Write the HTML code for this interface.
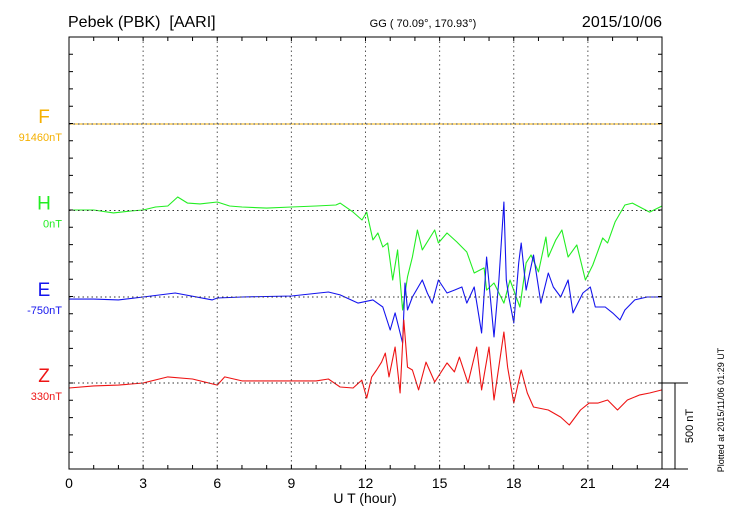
<!DOCTYPE html>
<html><head><meta charset="utf-8"><style>
html,body{margin:0;padding:0;background:#fff;}
svg{display:block;font-family:"Liberation Sans",sans-serif;}
</style></head><body>
<svg id="chart" width="730" height="520" viewBox="0 0 730 520" xmlns="http://www.w3.org/2000/svg">
<text x="68" y="27" font-size="16" fill="#000" xml:space="preserve" style="white-space:pre">Pebek (PBK)  [AARI]</text>
<text x="423" y="27" font-size="11" fill="#000" text-anchor="middle">GG ( 70.09°, 170.93°)</text>
<text x="662" y="27" font-size="16" fill="#000" text-anchor="end">2015/10/06</text>
<text x="365" y="503" font-size="14" fill="#000" text-anchor="middle">U T (hour)</text>
<text transform="translate(724,410) rotate(-90)" font-size="9" fill="#000" text-anchor="middle">Plotted at 2015/11/06 01:29 UT</text>
<g id="series"></g>
<g id="grid"></g>
<g id="axes"></g>
<g id="labels"></g>
</svg>
<script>
const xTicks = [0,3,6,9,12,15,18,21,24];
const components = ["F","H","E","Z"];
const baseLabels = ["91460nT","0nT","-750nT","330nT"];
const hT = [0,1,1.8,2.5,3,3.5,4,4.4,4.8,5.3,6,6.5,7,8,9,10,10.8,10.97,11.5,11.86,12.05,12.3,12.5,12.7,12.9,13.1,13.3,13.5,13.7,13.9,14.1,14.3,14.8,14.95,15.3,15.7,16.1,16.4,16.8,16.9,17.2,17.6,17.85,18.25,18.5,18.7,19.0,19.3,19.4,19.7,19.95,20.2,20.55,20.9,21.2,21.6,21.8,22.1,22.5,22.8,23.5,24];
const hV = [3,3,-14,-3,3,20,26,78,43,38,49,26,20,14,20,26,32,43,-9,-55,-9,-170,-130,-211,-188,-402,-228,-575,-384,-269,-113,-228,-113,-188,-130,-182,-240,-361,-332,-460,-419,-535,-402,-558,-303,-257,-355,-153,-269,-170,-113,-269,-199,-402,-315,-159,-188,-66,32,43,-9,26];
const eT = [0,1,2,3,4.3,5.8,6,7,9,10.5,10.97,11.7,12.3,12.7,13.0,13.2,13.5,13.6,13.7,13.9,14.3,14.5,14.7,14.95,15.3,15.6,15.9,16.1,16.4,16.7,16.9,17.2,17.4,17.6,17.7,17.8,18.0,18.2,18.3,18.5,18.8,19.1,19.4,19.6,19.9,20.2,20.4,20.8,21.1,21.3,21.7,22.0,22.3,22.5,22.9,23.4,24];
const eV = [-12,-12,-17,0,23,-17,-6,0,6,29,12,-35,-17,-58,-191,-92,-266,81,-75,0,98,23,-35,98,23,40,58,-35,58,-208,231,-231,98,549,98,0,-150,197,312,40,243,-35,139,58,0,98,-92,23,58,-58,-58,-92,-133,-75,-17,0,0];
const zT = [0,1,2,3,4,5,6,6.3,7,9,10,10.5,10.97,11.5,11.85,12.05,12.25,12.45,12.65,12.8,12.95,13.2,13.4,13.55,13.7,13.9,14.15,14.45,14.8,15.3,15.6,15.8,16.15,16.5,16.7,17.0,17.2,17.6,17.75,18.0,18.3,18.55,18.8,19.4,19.9,20.25,20.7,21.05,21.4,21.8,22.2,22.6,23.1,23.5,24];
const zV = [-29,-17,-12,0,35,23,-12,35,12,12,12,23,-23,-29,17,-87,35,75,121,173,35,208,-58,364,92,75,-40,121,6,116,64,150,0,208,-40,208,-98,295,92,-116,75,-58,-139,-156,-197,-243,-156,-116,-116,-98,-156,-98,-69,-58,-40];
const fT = [0,24];
const fV = [0,0];

const L=69,R=662,T=37,B=469;
const baselines=[124,210.5,297,383];
const pxPerNT=86.5/500;
const colors=["#f5b000","#22ee22","#1414ee","#ee1414"];
const xs=h=>L+(R-L)*h/24;
const ys=(i,v)=>baselines[i]-v*pxPerNT;
const NS="http://www.w3.org/2000/svg";
function mk(tag,attrs,parent){const e=document.createElementNS(NS,tag);for(const k in attrs)e.setAttribute(k,attrs[k]);parent.appendChild(e);return e;}
const grid=document.getElementById('grid'),series=document.getElementById('series'),axes=document.getElementById('axes'),labels=document.getElementById('labels');

xTicks.forEach((h,i)=>{
  if(h>0&&h<24){const g=mk('line',{x1:xs(h),x2:xs(h),y1:T,y2:B,stroke:'#555','stroke-width':1,'stroke-dasharray':'1.5,3'},grid);
  
  }
  const t=mk('text',{x:xs(h),y:488,'font-size':14,'text-anchor':'middle',fill:'#000'},axes);
  t.textContent=h;
  
  
});
baselines.forEach((b,i)=>{
  const g=mk('line',{x1:L,x2:R,y1:b,y2:b,stroke:'#333','stroke-width':1,'stroke-dasharray':'1.5,3'},grid);
  
  
});
const sets=[[fT,fV],[hT,hV],[eT,eV],[zT,zV]];
sets.forEach((s,i)=>{
  const d=s[0].map((t,k)=>(k?'L':'M')+xs(t).toFixed(1)+','+ys(i,s[1][k]).toFixed(1)).join('');
  const p=mk('path',{d:d,fill:'none',stroke:colors[i],'stroke-width':i===0?1:1.1,'stroke-linejoin':'round'},series);
  
  
  const a=mk('text',{x:44,y:baselines[i]-1,'font-size':19,'text-anchor':'middle',fill:colors[i]},labels);
  a.textContent=components[i];
  
  
  const b=mk('text',{x:62,y:baselines[i]+17,'font-size':11,'text-anchor':'end',fill:colors[i]},labels);
  b.textContent=baseLabels[i];
  
  
});
const fr=mk('rect',{x:L,y:T,width:R-L,height:B-T,fill:'none',stroke:'#000','stroke-width':1},axes);


let tk='';
for(let h=1;h<24;h++){tk+=`M${xs(h)},${T}v4M${xs(h)},${B}v-4`;}
for(let k=1;k<25;k++){const y=T+k*17.3;if(y<B-1)tk+=`M${L},${y}h4M${R},${y}h-4`;}
const tp=mk('path',{d:tk,stroke:'#000','stroke-width':1,fill:'none'},axes);


const sb=mk('path',{d:`M${R},383H688M675,383V469M${R},469H688`,stroke:'#000','stroke-width':1,fill:'none'},axes);


const st=mk('text',{transform:'translate(693,426) rotate(-90)','font-size':11,'text-anchor':'middle',fill:'#000'},axes);
st.textContent='500 nT';


</script>
</body></html>
